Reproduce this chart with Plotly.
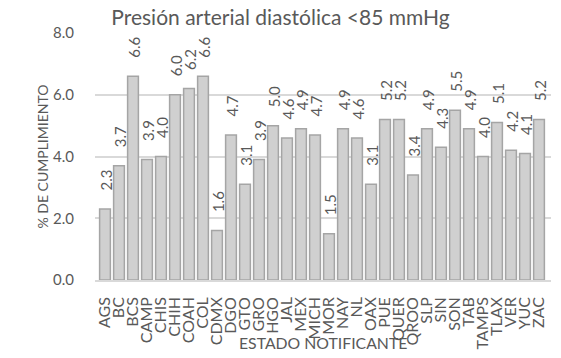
import plotly.graph_objects as go

estados = ["AGS", "BC", "BCS", "CAMP", "CHIS", "CHIH", "COAH", "COL", "CDMX", "DGO",
           "GTO", "GRO", "HGO", "JAL", "MEX", "MICH", "MOR", "NAY", "NL", "OAX",
           "PUE", "QUER", "QROO", "SLP", "SIN", "SON", "TAB", "TAMPS", "TLAX", "VER",
           "YUC", "ZAC"]
cumplimiento = [2.3, 3.7, 6.6, 3.9, 4.0, 6.0, 6.2, 6.6, 1.6, 4.7,
                3.1, 3.9, 5.0, 4.6, 4.9, 4.7, 1.5, 4.9, 4.6, 3.1,
                5.2, 5.2, 3.4, 4.9, 4.3, 5.5, 4.9, 4.0, 5.1, 4.2,
                4.1, 5.2]
y_ticks = [0, 2, 4, 6, 8]

FONT = "Lato"
GRAY = "#595959"

fig = go.Figure(go.Bar(
    x=estados,
    y=cumplimiento,
    marker=dict(color="#d0d0d0", line=dict(color="#a5a5a5", width=1.5)),
    hoverinfo="x+y",
))

# value labels, rotated and lifted above each bar end
for estado, v in zip(estados, cumplimiento):
    fig.add_annotation(
        x=estado, y=v, xref="x", yref="y",
        text=f"{v:.1f}", showarrow=False, textangle=-90,
        xanchor="center", yanchor="bottom", yshift=16, xshift=1,
        font=dict(family=FONT, size=15, color=GRAY),
    )

# axis title for the categories, set just under the tick labels
fig.add_annotation(
    text="ESTADO NOTIFICANTE", xref="paper", yref="paper",
    x=0.5, y=-0.252, xanchor="center", yanchor="middle", showarrow=False,
    font=dict(family=FONT, size=15.8, color=GRAY),
)

fig.update_layout(
    width=561, height=358,
    margin=dict(l=95, r=10, t=33, b=78),
    paper_bgcolor="white", plot_bgcolor="white",
    bargap=0.23,
    showlegend=False,
    title=dict(text="Presión arterial diastólica <85 mmHg",
               font=dict(family=FONT, size=21, color=GRAY),
               x=0.5, xref="container", xanchor="center",
               y=0.952, yref="container", yanchor="middle"),
    font=dict(family=FONT, color=GRAY),
)

fig.update_yaxes(
    range=[0, 8], tickvals=y_ticks, ticktext=[f"{v:.1f}" for v in y_ticks],
    showgrid=True, gridcolor="#d9d9d9", gridwidth=1.5,
    zeroline=False, showline=False, automargin=False,
    tickfont=dict(family=FONT, size=15, color=GRAY),
    ticklabelstandoff=20,
    title=dict(text="% DE CUMPLIMIENTO", font=dict(family=FONT, size=14, color=GRAY),
               standoff=1),
)

fig.update_xaxes(
    tickmode="array", tickvals=estados, ticktext=estados,
    tickangle=-90, showline=True, linecolor="#d9d9d9", linewidth=1.5,
    automargin=False,
    tickfont=dict(family=FONT, size=16, color=GRAY),
    ticklabelstandoff=9,
)

fig.write_html("out.html")
